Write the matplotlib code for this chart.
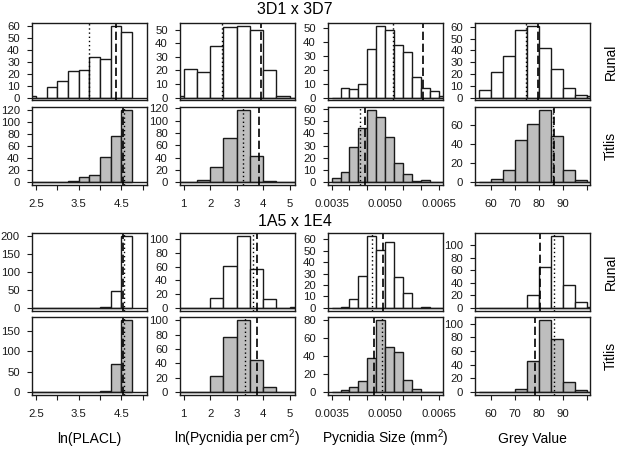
import matplotlib
matplotlib.use("Agg")
import matplotlib.pyplot as plt
import numpy as np

plt.rcParams['font.family'] = ['Liberation Sans', 'DejaVu Sans']
plt.rcParams['mathtext.fontset'] = 'custom'
plt.rcParams['mathtext.rm'] = 'Liberation Sans'
plt.rcParams['mathtext.default'] = 'regular'

crosses = ["3D1 x 3D7", "1A5 x 1E4"]
hosts = ["Runal", "Titlis"]
traits = ["ln(PLACL)", "ln(Pycnidia per cm$^2$)", "Pycnidia Size (mm$^2$)", "Grey Value"]

# histogram bins per trait: left edge of first bin and bin width
bin_start = [2.25, 0.5, 0.0035, 55]
bin_width = [0.25, 0.5, 0.00025, 5]

# counts per bin
placl_3d1_runal = [1, 0, 9, 14, 22, 23, 34, 32, 60, 55]
placl_3d1_titlis = [0, 0, 0, 1, 2, 8, 11, 41, 77, 119]
placl_1a5_runal = [0, 0, 0, 0, 0, 0, 0, 3, 46, 201]
placl_1a5_titlis = [0, 0, 0, 0, 0, 0, 1, 3, 69, 177]

pycn_3d1_runal = [1, 21, 19, 38, 52, 53, 50, 20, 1, 0]
pycn_3d1_titlis = [0, 0, 3, 25, 72, 117, 42, 2, 0, 0]
pycn_1a5_runal = [0, 0, 0, 14, 61, 105, 56, 13, 0, 1]
pycn_1a5_titlis = [0, 0, 0, 22, 76, 100, 45, 7, 0, 0]

size_3d1_runal = [0, 7, 6, 10, 35, 52, 49, 38, 33, 15, 7, 5, 1]
size_3d1_titlis = [3, 8, 29, 44, 59, 53, 37, 16, 7, 1, 2, 0, 0]
size_1a5_runal = [0, 1, 8, 28, 63, 51, 58, 27, 13, 0, 1, 0, 0]
size_1a5_titlis = [0, 2, 6, 12, 38, 80, 50, 45, 13, 4, 0, 0, 0]

grey_3d1_runal = [6, 22, 35, 57, 61, 42, 24, 8, 2, 1]
grey_3d1_titlis = [0, 3, 13, 44, 61, 75, 48, 13, 2, 0]
grey_1a5_runal = [0, 0, 0, 0, 21, 66, 115, 37, 9, 2]
grey_1a5_titlis = [0, 0, 0, 4, 45, 105, 78, 15, 3, 0]

# reference values drawn as vertical lines: dotted and dashed
dotted_3d1_runal = [3.73, 2.43, 0.00521, 74.7]
dashed_3d1_runal = [4.38, 3.92, 0.00605, 79.6]
dotted_3d1_titlis = [4.56, 3.24, 0.00430, 85.9]
dashed_3d1_titlis = [4.545, 3.84, 0.00443, 86.2]
dotted_1a5_runal = [4.56, 3.62, 0.00463, 86.2]
dashed_1a5_runal = [4.545, 3.77, 0.00493, 80.6]
dotted_1a5_titlis = [4.56, 3.33, 0.00490, 86.2]
dashed_1a5_titlis = [4.545, 3.77, 0.00469, 78.2]

counts = {
    (0, 0): [placl_3d1_runal, pycn_3d1_runal, size_3d1_runal, grey_3d1_runal],
    (0, 1): [placl_3d1_titlis, pycn_3d1_titlis, size_3d1_titlis, grey_3d1_titlis],
    (1, 0): [placl_1a5_runal, pycn_1a5_runal, size_1a5_runal, grey_1a5_runal],
    (1, 1): [placl_1a5_titlis, pycn_1a5_titlis, size_1a5_titlis, grey_1a5_titlis],
}
dotted = {(0, 0): dotted_3d1_runal, (0, 1): dotted_3d1_titlis,
          (1, 0): dotted_1a5_runal, (1, 1): dotted_1a5_titlis}
dashed = {(0, 0): dashed_3d1_runal, (0, 1): dashed_3d1_titlis,
          (1, 0): dashed_1a5_runal, (1, 1): dashed_1a5_titlis}

xlims = [(2.40, 5.09), (0.85, 5.19), (0.00339, 0.00661), (53.3, 101.4)]
xticks = [[2.5, 3, 3.5, 4, 4.5, 5], [1, 2, 3, 4, 5],
          [0.0035, 0.004, 0.0045, 0.005, 0.0055, 0.006, 0.0065],
          [60, 70, 80, 90, 100]]
xticklabels = [["2.5", "", "3.5", "", "4.5", ""], ["1", "2", "3", "4", "5"],
               ["0.0035", "", "", "0.0050", "", "", "0.0065"],
               ["60", "70", "80", "90", ""]]

host_fill = ["white", "#BEBEBE"]
edge = "#1a1a1a"


def pretty_step(top):
    """Tick spacing the way R's pretty() picks it for (-4%, +4%) limits."""
    cell = top * 1.08 / 5
    u = 10 ** np.floor(np.log10(cell))
    unit = u
    if 2 * u - cell < 1.5 * (cell - unit):
        unit = 2 * u
        if 5 * u - cell < 2.75 * (cell - unit):
            unit = 5 * u
            if 10 * u - cell < 1.5 * (cell - unit):
                unit = 10 * u
    return unit


W, H = 617, 449
fig = plt.figure(figsize=(W / 100, H / 100), dpi=100)

col_left = [31.7, 179.7, 327.7, 475.0]
panel_w = 115
row_top = [[22.7, 107.3], [233.0, 317.3]]
panel_h = 77.7

for c in range(2):
    for h in range(2):
        for t in range(4):
            x0 = col_left[t]
            y0 = row_top[c][h]
            ax = fig.add_axes([x0 / W, 1 - (y0 + panel_h) / H, panel_w / W, panel_h / H])
            vals = np.array(counts[(c, h)][t])
            lefts = bin_start[t] + bin_width[t] * np.arange(len(vals))
            ax.bar(lefts, vals, width=bin_width[t], align='edge',
                   color=host_fill[h], edgecolor=edge, linewidth=1.0)
            ax.axhline(0, color=edge, lw=1.0)
            ax.axvline(dotted[(c, h)][t], color='black', lw=1.0, ls=(0, (1, 2)))
            ax.axvline(dashed[(c, h)][t], color='black', lw=1.2, ls=(0, (5, 2.2)))

            top = vals.max()
            ax.set_xlim(*xlims[t])
            ax.set_ylim(-0.04 * top, 1.04 * top)
            ax.set_yticks(np.arange(0, top * 1.04, pretty_step(top)))
            ax.tick_params(axis='y', direction='out', length=3.5, width=0.8,
                           pad=5, labelsize=8.2, colors='#1a1a1a')
            if h == 1:
                ax.set_xticks(xticks[t])
                ax.set_xticklabels(xticklabels[t])
                ax.tick_params(axis='x', direction='out', length=3.6, width=0.8,
                               pad=6.5, labelsize=8.2, colors='#1a1a1a')
            else:
                ax.set_xticks([])
            for sp in ax.spines.values():
                sp.set_linewidth(1.0)
                sp.set_color(edge)

            if t == 3:
                fig.text(611 / W, 1 - (y0 + panel_h / 2) / H, hosts[h],
                         rotation=90, ha='center', va='center', fontsize=10)

    fig.text(295 / W, 1 - (10 + 212 * c) / H, crosses[c],
             ha='center', va='center', fontsize=11.5)

for t in range(4):
    fig.text((col_left[t] + panel_w / 2) / W, 1 - 443 / H, traits[t],
             ha='center', va='baseline', fontsize=10)

fig.savefig("out.png", dpi=100)
